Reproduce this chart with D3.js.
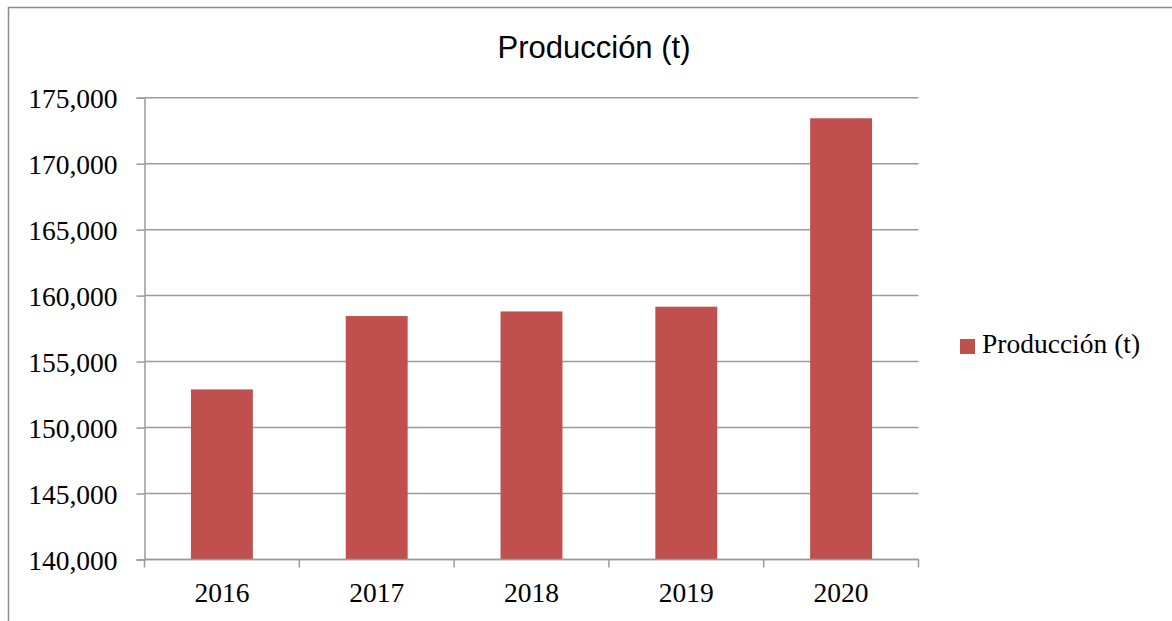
<!DOCTYPE html>
<html>
<head>
<meta charset="utf-8">
<script src="https://cdn.jsdelivr.net/npm/d3@7"></script>
<style>
  html, body { margin: 0; padding: 0; background: #fff; }
  svg { display: block; }
</style>
</head>
<body>
<svg id="chart" width="1172" height="621"></svg>
<script>
// Annual production (tonnes)
const years = ["2016", "2017", "2018", "2019", "2020"];
const production = [152890, 158450, 158800, 159160, 173440];
const yTicks = [140000, 145000, 150000, 155000, 160000, 165000, 170000, 175000];
const seriesName = "Producción (t)";
const chartTitle = "Producción (t)";

const barColor = "#C0504D";
const gridColor = "#9a9a9a";
const serif = "'Liberation Serif', 'DejaVu Serif', serif";
const sans = "'Liberation Sans', Arial, sans-serif";
const labelSize = 27.5;

const svg = d3.select("#chart");
const W = 1172, H = 621;

// outer chart frame (left and top edges visible)
svg.append("path")
  .attr("d", `M8.5,${H} V7.5 H${W}`)
  .attr("fill", "none")
  .attr("stroke", "#8c8c8c")
  .attr("stroke-width", 1.5);

const plot = { left: 144.5, right: 918.5, top: 97.7, bottom: 559.5 };

const x = d3.scaleBand()
  .domain(years)
  .range([plot.left, plot.right])
  .paddingInner(0.6)
  .paddingOuter(0.3);

const y = d3.scaleLinear()
  .domain([140000, 175000])
  .range([plot.bottom, plot.top]);

// horizontal gridlines
svg.append("g")
  .selectAll("line")
  .data(yTicks)
  .join("line")
  .attr("x1", plot.left)
  .attr("x2", plot.right)
  .attr("y1", d => y(d))
  .attr("y2", d => y(d))
  .attr("stroke", gridColor)
  .attr("stroke-width", 1.5);

// bars
svg.append("g")
  .selectAll("rect")
  .data(years.map((yr, i) => ({ yr, v: production[i] })))
  .join("rect")
  .attr("x", d => x(d.yr))
  .attr("width", x.bandwidth())
  .attr("y", d => y(d.v))
  .attr("height", d => y(140000) - y(d.v))
  .attr("fill", barColor);

// y axis
const yAxis = d3.axisLeft(y)
  .tickValues(yTicks)
  .tickSize(8)
  .tickPadding(19)
  .tickFormat(d3.format(","));
const gy = svg.append("g")
  .attr("transform", `translate(${plot.left},0)`)
  .call(yAxis);
gy.select(".domain").attr("stroke", gridColor).attr("stroke-width", 1.5);
gy.selectAll(".tick line").attr("stroke", gridColor).attr("stroke-width", 1.5);
gy.selectAll(".tick text")
  .attr("font-family", serif)
  .attr("font-size", labelSize)
  .attr("fill", "#000")
  .attr("dy", "0.36em");

// x axis line and category boundary ticks
const step = x.step();
const x0 = plot.left;
svg.append("line")
  .attr("x1", plot.left).attr("x2", plot.right)
  .attr("y1", plot.bottom).attr("y2", plot.bottom)
  .attr("stroke", gridColor).attr("stroke-width", 1.5);
svg.append("g")
  .selectAll("line")
  .data(d3.range(years.length + 1))
  .join("line")
  .attr("x1", i => x0 + i * step)
  .attr("x2", i => x0 + i * step)
  .attr("y1", plot.bottom)
  .attr("y2", plot.bottom + 8)
  .attr("stroke", gridColor)
  .attr("stroke-width", 1.5);

// x labels
svg.append("g")
  .selectAll("text")
  .data(years)
  .join("text")
  .attr("x", d => x(d) + x.bandwidth() / 2)
  .attr("y", 602)
  .attr("text-anchor", "middle")
  .attr("font-family", serif)
  .attr("font-size", labelSize)
  .attr("fill", "#000")
  .text(d => d);

// title
svg.append("text")
  .attr("x", 594)
  .attr("y", 58)
  .attr("text-anchor", "middle")
  .attr("font-family", sans)
  .attr("font-size", 31)
  .attr("fill", "#000")
  .text(chartTitle);

// legend
const legend = svg.append("g").attr("transform", "translate(960,339)");
legend.append("rect")
  .attr("width", 15).attr("height", 15)
  .attr("fill", barColor);
legend.append("text")
  .attr("x", 22)
  .attr("y", 14)
  .attr("font-family", serif)
  .attr("font-size", labelSize)
  .attr("fill", "#000")
  .text(seriesName);
</script>
</body>
</html>
